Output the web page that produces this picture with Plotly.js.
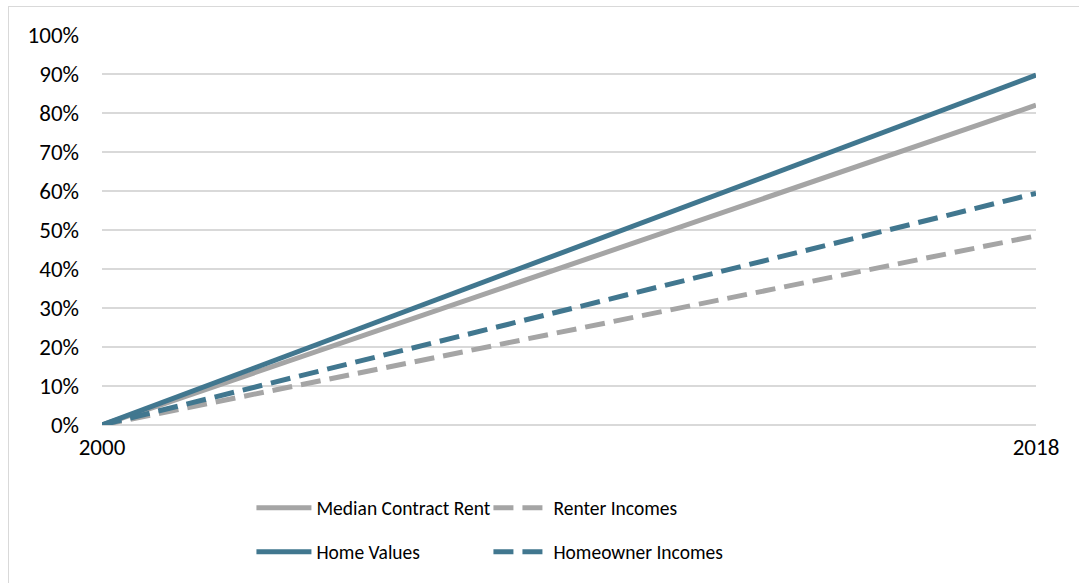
<!DOCTYPE html>
<html>
<head>
<meta charset="utf-8">
<script src="https://cdn.plot.ly/plotly-3.0.1.min.js"></script>
<style>
  html, body { margin: 0; padding: 0; background: #ffffff; }
  #frame { position: absolute; left: 8px; top: 6px; width: 1100px; height: 620px; border: 1px solid #d9d9d9; box-sizing: border-box; }
  #chart { position: absolute; left: 0; top: 0; width: 1079px; height: 583px; }
</style>
</head>
<body>
<div id="frame"></div>
<div id="chart"></div>
<script>
// Data
const years = [2000, 2018];
const medianContractRent = [0, 0.82];
const renterIncomes = [0, 0.485];
const homeValues = [0, 0.897];
const homeownerIncomes = [0, 0.594];
const xTickLabels = ['2000', '2018'];

const GRAY = '#a5a5a5';
const TEAL = '#41778f';
const FONT = 'Carlito, "Liberation Sans", Arial, sans-serif';

const traces = [
  { x: years, y: medianContractRent, name: 'Median Contract Rent', mode: 'lines',
    line: { color: GRAY, width: 5 }, legend: 'legend' },
  { x: years, y: renterIncomes, name: 'Renter Incomes', mode: 'lines',
    line: { color: GRAY, width: 5, dash: '20px,9px' }, legend: 'legend' },
  { x: years, y: homeValues, name: 'Home Values', mode: 'lines',
    line: { color: TEAL, width: 5 }, legend: 'legend2' },
  { x: years, y: homeownerIncomes, name: 'Homeowner Incomes', mode: 'lines',
    line: { color: TEAL, width: 5, dash: '20px,9px' }, legend: 'legend2' }
];

const legendCommon = {
  orientation: 'h', xanchor: 'left', yanchor: 'middle',
  font: { family: FONT, size: 19.5, color: '#000000' },
  bgcolor: 'rgba(0,0,0,0)', entrywidth: 167, itemwidth: 55, traceorder: 'normal'
};

const layout = {
  width: 1079, height: 583,
  margin: { l: 102, r: 43, t: 35, b: 158 },
  paper_bgcolor: 'rgba(0,0,0,0)',
  plot_bgcolor: '#ffffff',
  font: { family: FONT, size: 23, color: '#000000' },
  showlegend: true,
  xaxis: {
    range: [2000, 2018], tickvals: years, ticktext: xTickLabels,
    showgrid: false, zeroline: false, showline: false, ticks: '',
    ticklabelstandoff: 6,
    tickfont: { family: FONT, size: 23, color: '#000000' }
  },
  yaxis: {
    range: [0, 1], dtick: 0.1, tickformat: '.0%',
    showgrid: true, gridcolor: '#d9d9d9', gridwidth: 1.5,
    zeroline: true, zerolinecolor: '#d9d9d9', zerolinewidth: 1.5,
    showline: false, ticks: '', ticklabelstandoff: 22,
    tickfont: { family: FONT, size: 23, color: '#000000' }
  },
  legend: Object.assign({}, legendCommon, { x: 0.16, y: -0.213 }),
  legend2: Object.assign({}, legendCommon, { x: 0.16, y: -0.326 })
};

Plotly.newPlot('chart', traces, layout, { displayModeBar: false, staticPlot: true });
</script>
</body>
</html>
